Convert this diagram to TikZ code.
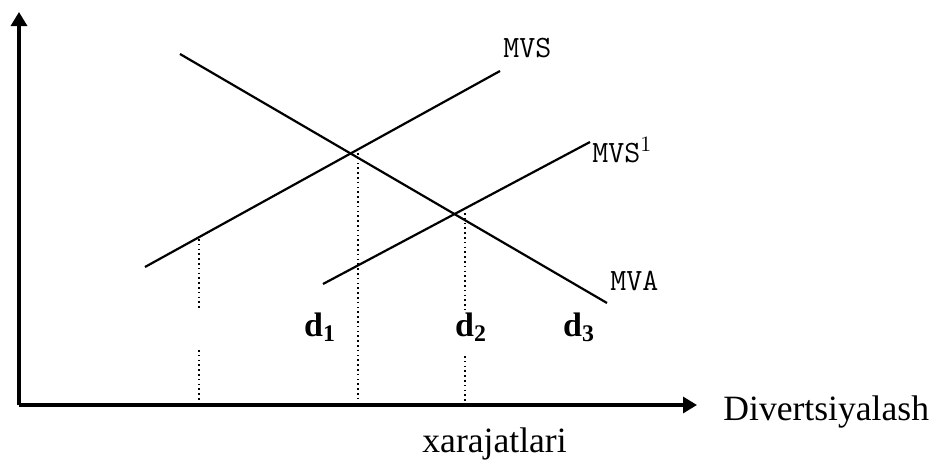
\documentclass[tikz,border=0pt]{standalone}
\usepackage{fontspec}
\setmainfont{Liberation Serif}
\usetikzlibrary{arrows.meta}
\begin{document}
\begin{tikzpicture}[x=0.5pt,y=-0.5pt,
  axis/.style={line width=1.6pt,-{Triangle[length=7pt,width=8pt]}},
  curve/.style={line width=1.1pt},
  guide/.style={line width=0.7pt,dash pattern=on 0.8pt off 1.6pt},
  mlabel/.style={font=\ttfamily\fontsize{15.5}{15.5}\selectfont,inner sep=0pt},
  dlabel/.style={font=\fontsize{17}{17}\selectfont\bfseries,inner sep=0pt},
  tlabel/.style={font=\fontsize{17.8}{17.8}\selectfont,inner sep=0pt}]
\useasboundingbox (0,0) rectangle (938,466);
% axes
\coordinate (O) at (19,405);
\coordinate (Ytop) at (19,12);
\coordinate (Xend) at (697,405);
\draw[axis] (O) -- (Ytop);
\draw[axis] (O) -- (Xend);
% curves
\coordinate (S0) at (145,267);
\coordinate (S1) at (500,71);
\coordinate (T0) at (323,284);
\coordinate (T1) at (590,142);
\coordinate (A0) at (180,54);
\coordinate (A1) at (607,303);
\draw[curve] (S0) -- (S1);
\draw[curve] (T0) -- (T1);
\draw[curve] (A0) -- (A1);
% guides
\coordinate (g1a) at (199,239);
\coordinate (g1b) at (199,308);
\coordinate (g1c) at (199,350);
\coordinate (g1d) at (199,405);
\coordinate (g2a) at (358,153);
\coordinate (g2b) at (358,405);
\coordinate (g3a) at (465,213);
\coordinate (g3b) at (465,310);
\coordinate (g3c) at (465,356);
\coordinate (g3d) at (465,405);
\draw[guide] (g1a) -- (g1b);
\draw[guide] (g1c) -- (g1d);
\draw[guide] (g2a) -- (g2b);
\draw[guide] (g3a) -- (g3b);
\draw[guide] (g3c) -- (g3d);
% labels
\node[mlabel,anchor=base west] (lS) at (503,57) {MVS};
\node[mlabel,anchor=base west] (lT) at (592,162) {MVS$^{1}$};
\node[mlabel,anchor=base west] (lA) at (610,290) {MVA};
\node[dlabel,anchor=base] (d1) at (320,336) {d$_{\mathbf 1}$};
\node[dlabel,anchor=base] (d2) at (471,336) {d$_{\mathbf 2}$};
\node[dlabel,anchor=base] (d3) at (579,336) {d$_{\mathbf 3}$};
\node[tlabel,anchor=base west] (xl) at (723,420) {Divertsiyalash};
\node[tlabel,anchor=base west] (xl2) at (422,452) {xarajatlari};
\end{tikzpicture}
\end{document}
